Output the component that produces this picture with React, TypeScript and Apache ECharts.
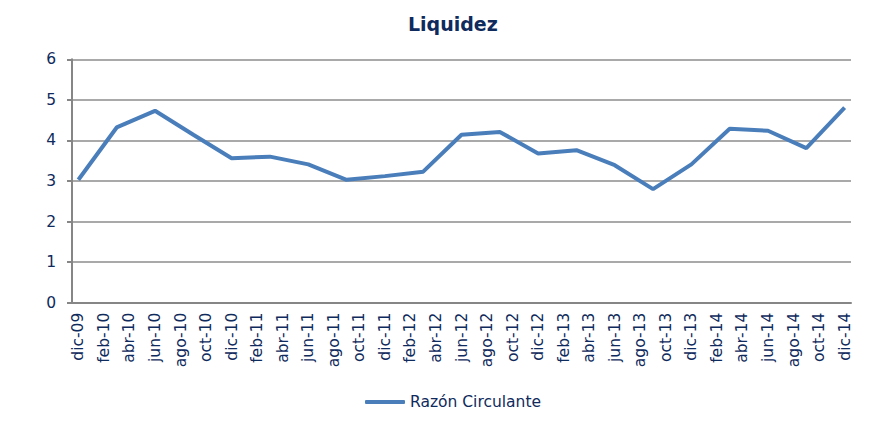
import React, { useEffect, useRef } from "react";
import * as echarts from "echarts";

// Monthly axis from dic-09 to dic-14 (labels shown every two months)
const monthNames = ["ene", "feb", "mar", "abr", "may", "jun", "jul", "ago", "sep", "oct", "nov", "dic"];
const startYear = 2009;
const startMonth = 11; // dic
const monthCount = 61;

// Quarterly observations
const quarterLabels = [
  "dic-09", "mar-10", "jun-10", "sep-10", "dic-10", "mar-11", "jun-11", "sep-11",
  "dic-11", "mar-12", "jun-12", "sep-12", "dic-12", "mar-13", "jun-13", "sep-13",
  "dic-13", "mar-14", "jun-14", "sep-14", "dic-14",
];
const razonCirculante = [
  3.03, 4.32, 4.73, 4.14, 3.56, 3.6, 3.41, 3.03,
  3.12, 3.23, 4.14, 4.21, 3.68, 3.76, 3.39, 2.8,
  3.41, 4.29, 4.24, 3.81, 4.81,
];
const yTicks = [0, 1, 2, 3, 4, 5, 6];

const TEXT = "#0f2a5c";
const FONT = "DejaVu Sans, Verdana, sans-serif";

function buildMonths(): string[] {
  const out: string[] = [];
  for (let i = 0; i < monthCount; i++) {
    const m = (startMonth + i) % 12;
    const y = startYear + Math.floor((startMonth + i) / 12);
    out.push(monthNames[m] + "-" + String(y % 100).padStart(2, "0"));
  }
  return out;
}

export default function App() {
  const ref = useRef<HTMLDivElement>(null);
  useEffect(() => {
    if (!ref.current) return;
    const chart = echarts.init(ref.current, undefined, { renderer: "svg" });
    const months = buildMonths();
    const seriesData = months.map((m) => {
      const idx = quarterLabels.indexOf(m);
      return idx >= 0 ? razonCirculante[idx] : null;
    });
    chart.setOption({
      animation: false,
      backgroundColor: "#ffffff",
      title: {
        text: "Liquidez",
        left: 403,
        top: 9,
        textStyle: { color: TEXT, fontFamily: FONT, fontWeight: "bold", fontSize: 19 },
      },
      legend: {
        data: ["Razón Circulante"],
        left: 360,
        top: 389,
        icon: "roundRect",
        itemWidth: 40,
        itemHeight: 4,
        textStyle: { color: TEXT, fontFamily: FONT, fontSize: 15.5 },
      },
      grid: { left: 72, right: 33, top: 59.3, bottom: 131.3, containLabel: false },
      xAxis: {
        type: "category",
        data: months,
        boundaryGap: true,
        axisLine: { show: true, lineStyle: { color: "#868686", width: 2 } },
        axisTick: { show: false },
        axisLabel: {
          interval: 1,
          rotate: 90,
          margin: 10,
          color: TEXT,
          fontFamily: FONT,
          fontSize: 15.5,
        },
        splitLine: { show: false },
      },
      yAxis: {
        type: "value",
        min: yTicks[0],
        max: yTicks[yTicks.length - 1],
        interval: 1,
        axisLine: { show: true, lineStyle: { color: "#868686", width: 2 } },
        axisTick: { show: true, length: 5, lineStyle: { color: "#868686", width: 2 } },
        axisLabel: { margin: 16, color: TEXT, fontFamily: FONT, fontSize: 15.5 },
        splitLine: { show: true, lineStyle: { color: "#8c8c8c", width: 1.6 } },
      },
      series: [
        {
          name: "Razón Circulante",
          type: "line",
          data: seriesData,
          connectNulls: true,
          showSymbol: false,
          symbol: "none",
          lineStyle: { color: "#4a7ebb", width: 4 },
          itemStyle: { color: "#4a7ebb" },
        },
      ],
    });
    return () => chart.dispose();
  }, []);
  return <div ref={ref} style={{ width: 884, height: 434, position: "absolute", left: 0, top: 0 }} />;
}
